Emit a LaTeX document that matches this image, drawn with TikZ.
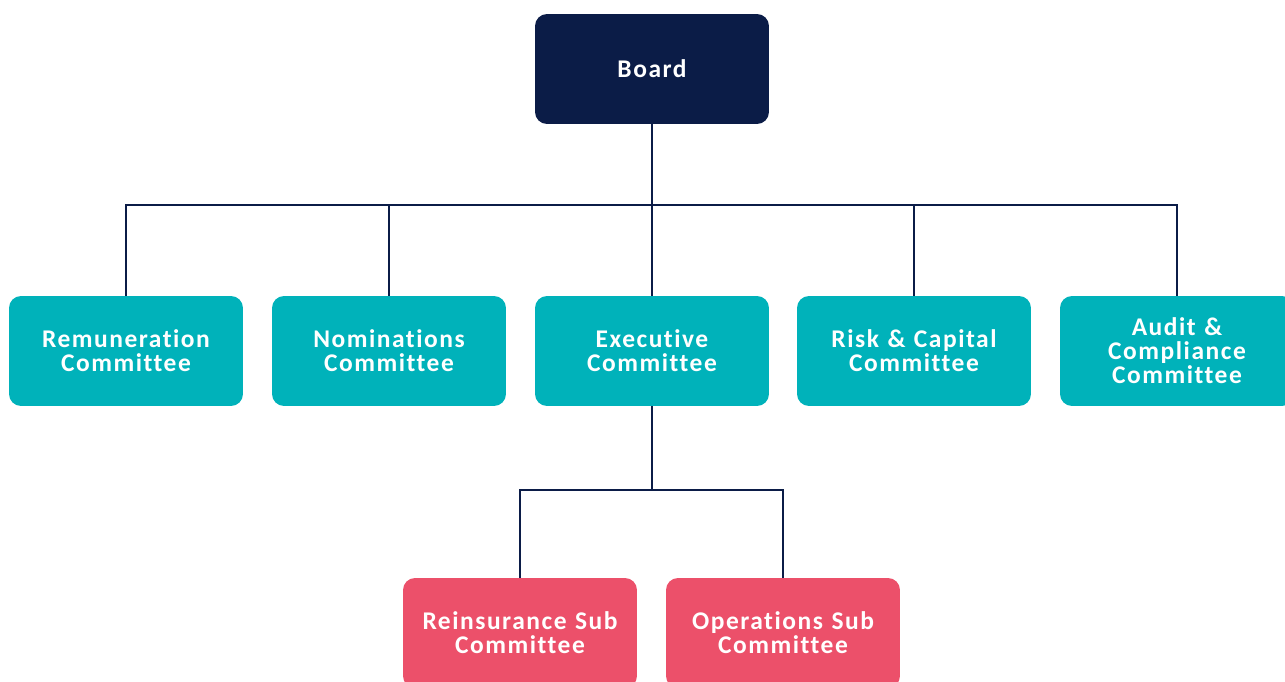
\documentclass[tikz,border=0pt]{standalone}
\usepackage{fontspec}
\setmainfont{Carlito}[LetterSpace=6, Ligatures=NoCommon]
\usepackage{tikz}
\definecolor{navy}{HTML}{0B1C47}
\definecolor{teal}{HTML}{00B2BA}
\definecolor{rose}{HTML}{EC506A}
\tikzstyle{box}=[rounded corners=2.4mm, minimum width=4.68cm, minimum height=2.2cm, text width=4.5cm, align=center, text=white, font=\fontsize{14.5}{13.6}\selectfont\bfseries, inner sep=0pt]
\tikzstyle{link}=[draw=navy, line width=1.3pt]

\begin{document}
\begin{tikzpicture}[x=0.02cm, y=-0.02cm]
    \useasboundingbox (0,0) rectangle (1285,682);
    \node[box, fill=navy] (board) at (652,69) {Board};
    \node[box, fill=teal] (remun) at (126,351) {Remuneration\\Committee};
    \node[box, fill=teal] (nomin) at (389,351) {Nominations\\Committee};
    \node[box, fill=teal] (exec) at (652,351) {Executive\\Committee};
    \node[box, fill=teal] (risk) at (914,351) {Risk \& Capital\\Committee};
    \node[box, fill=teal] (audit) at (1177,351) {Audit \&\\Compliance\\Committee};
    \node[box, fill=rose] (reins) at (520,633) {Reinsurance Sub\\Committee};
    \node[box, fill=rose] (ops) at (783,633) {Operations Sub\\Committee};
    \coordinate (top) at (652,205);
    \coordinate (mid) at (652,490);
    \draw[link] (board) -- (exec);
    \draw[link] (exec) -- (mid);
    \draw[link] (remun) |- (top) -| (audit);
    \draw[link] (nomin) -- (nomin |- top);
    \draw[link] (risk) -- (risk |- top);
    \draw[link] (reins) |- (mid) -| (ops);
\end{tikzpicture}
\end{document}
